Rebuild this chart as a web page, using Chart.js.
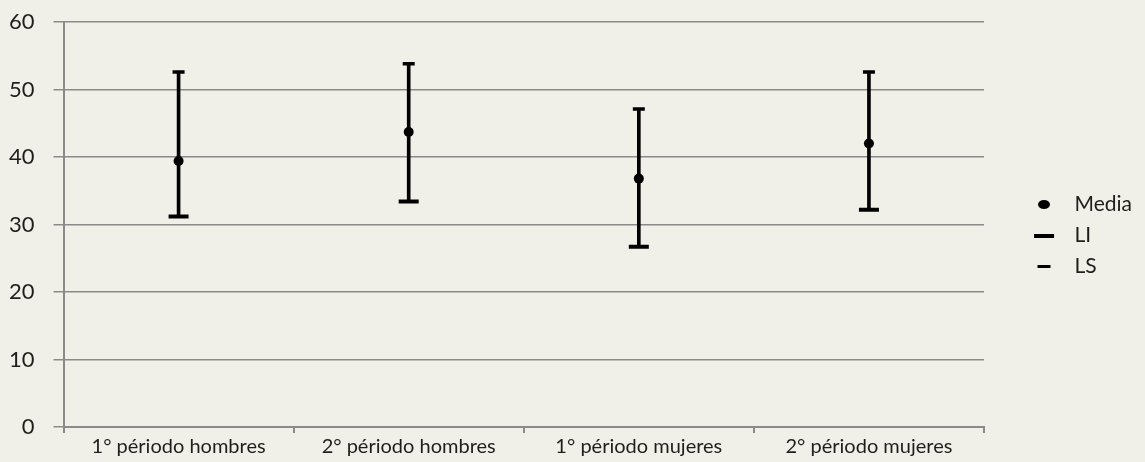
<!DOCTYPE html>
<html>
<head>
  <meta charset="utf-8">
  <title>Media, LI y LS por período</title>
  <script src="https://cdn.jsdelivr.net/npm/chart.js"></script>
  <style>
    html, body {
      margin: 0;
      padding: 0;
      background: #f0f0e8;
    }
    #wrap {
      width: 1145px;
      height: 462px;
    }
  </style>
</head>
<body>
  <div id="wrap"><canvas id="chart"></canvas></div>

  <script>
    // datos
    var categorias = ["1° périodo hombres", "2° périodo hombres", "1° périodo mujeres", "2° périodo mujeres"];
    var media = [39.4, 43.7, 36.8, 42.0];
    var li = [31.2, 33.4, 26.7, 32.2];
    var ls = [52.6, 53.8, 47.1, 52.6];
    var yMin = 0;
    var yMax = 60;
    var yPaso = 10;

    var gris = "#8a8a8a";
    var texto = "#1e1e1e";

    // pequeños dibujos para la leyenda (el ancho extra deja sitio a la izquierda)
    var anchoCaja = 70;
    function marca(w, h, dibujar) {
      var c = document.createElement("canvas");
      c.width = anchoCaja;
      c.height = h;
      var g = c.getContext("2d");
      g.fillStyle = "#000";
      g.translate(50 - w / 2, 0);
      dibujar(g);
      return c;
    }
    var marcaMedia = marca(12, 9, function (g) {
      g.beginPath();
      g.ellipse(6, 4.5, 6, 4.5, 0, 0, Math.PI * 2);
      g.fill();
    });
    var marcaLI = marca(20, 4, function (g) { g.fillRect(0, 0, 20, 4); });
    var marcaLS = marca(13, 3, function (g) { g.fillRect(0, 0, 13, 3); });

    var rangos = [];
    for (var i = 0; i < li.length; i++) {
      rangos.push([li[i], ls[i]]);
    }

    var ctx = document.getElementById("chart").getContext("2d");
    var chart = new Chart(ctx, {
      type: "bar",
      data: {
        labels: categorias,
        datasets: [{
          label: "rango",
          data: rangos,
          backgroundColor: "#000",
          barThickness: 3,
          order: 5
        }, {
          type: "line",
          label: "Media",
          data: media,
          showLine: false,
          pointStyle: "circle",
          pointRadius: 5,
          pointBorderWidth: 0,
          pointBackgroundColor: "#000",
          borderColor: "#000",
          order: 1
        }, {
          type: "line",
          label: "LI",
          data: li,
          showLine: false,
          pointStyle: "line",
          pointRadius: 10,
          pointBorderWidth: 4,
          pointBorderColor: "#000",
          borderColor: "#000",
          order: 2
        }, {
          type: "line",
          label: "LS",
          data: ls,
          showLine: false,
          pointStyle: "line",
          pointRadius: 6,
          pointBorderWidth: 3.5,
          pointBorderColor: "#000",
          borderColor: "#000",
          order: 3
        }]
      },
      options: {
        responsive: true,
        maintainAspectRatio: false,
        animation: false,
        layout: {
          autoPadding: false,
          padding: { left: -10, right: 3, top: 10, bottom: 1 }
        },
        plugins: {
          tooltip: { enabled: false },
          legend: {
            position: "right",
            labels: {
              usePointStyle: true,
              pointStyleWidth: anchoCaja,
              padding: 10,
              color: texto,
              font: { family: "Lato", size: 21 },
              generateLabels: function () {
                return [
                  { text: "Media", pointStyle: marcaMedia, fillStyle: "#000", strokeStyle: "#000", lineWidth: 0, fontColor: texto, datasetIndex: 1 },
                  { text: "LI", pointStyle: marcaLI, fillStyle: "#000", strokeStyle: "#000", lineWidth: 0, fontColor: texto, datasetIndex: 2 },
                  { text: "LS", pointStyle: marcaLS, fillStyle: "#000", strokeStyle: "#000", lineWidth: 0, fontColor: texto, datasetIndex: 3 }
                ];
              }
            }
          }
        },
        scales: {
          x: {
            offset: true,
            grid: {
              offset: true,
              drawOnChartArea: false,
              drawTicks: true,
              tickLength: 6,
              color: gris,
              lineWidth: 2
            },
            border: { color: gris, width: 2 },
            ticks: {
              color: texto,
              font: { family: "Lato", size: 20 },
              padding: 2,
              maxRotation: 0
            }
          },
          y: {
            min: yMin,
            max: yMax,
            grid: {
              color: gris,
              lineWidth: 1.5,
              tickLength: 10
            },
            border: { color: gris, width: 2 },
            ticks: {
              stepSize: yPaso,
              color: texto,
              font: { family: "Lato", size: 22 },
              padding: 19
            },
            // margen superior fijo del area de trazado
            afterFit: function (escala) {
              escala.paddingTop = 22;
            }
          }
        }
      }
    });
  </script>
</body>
</html>
